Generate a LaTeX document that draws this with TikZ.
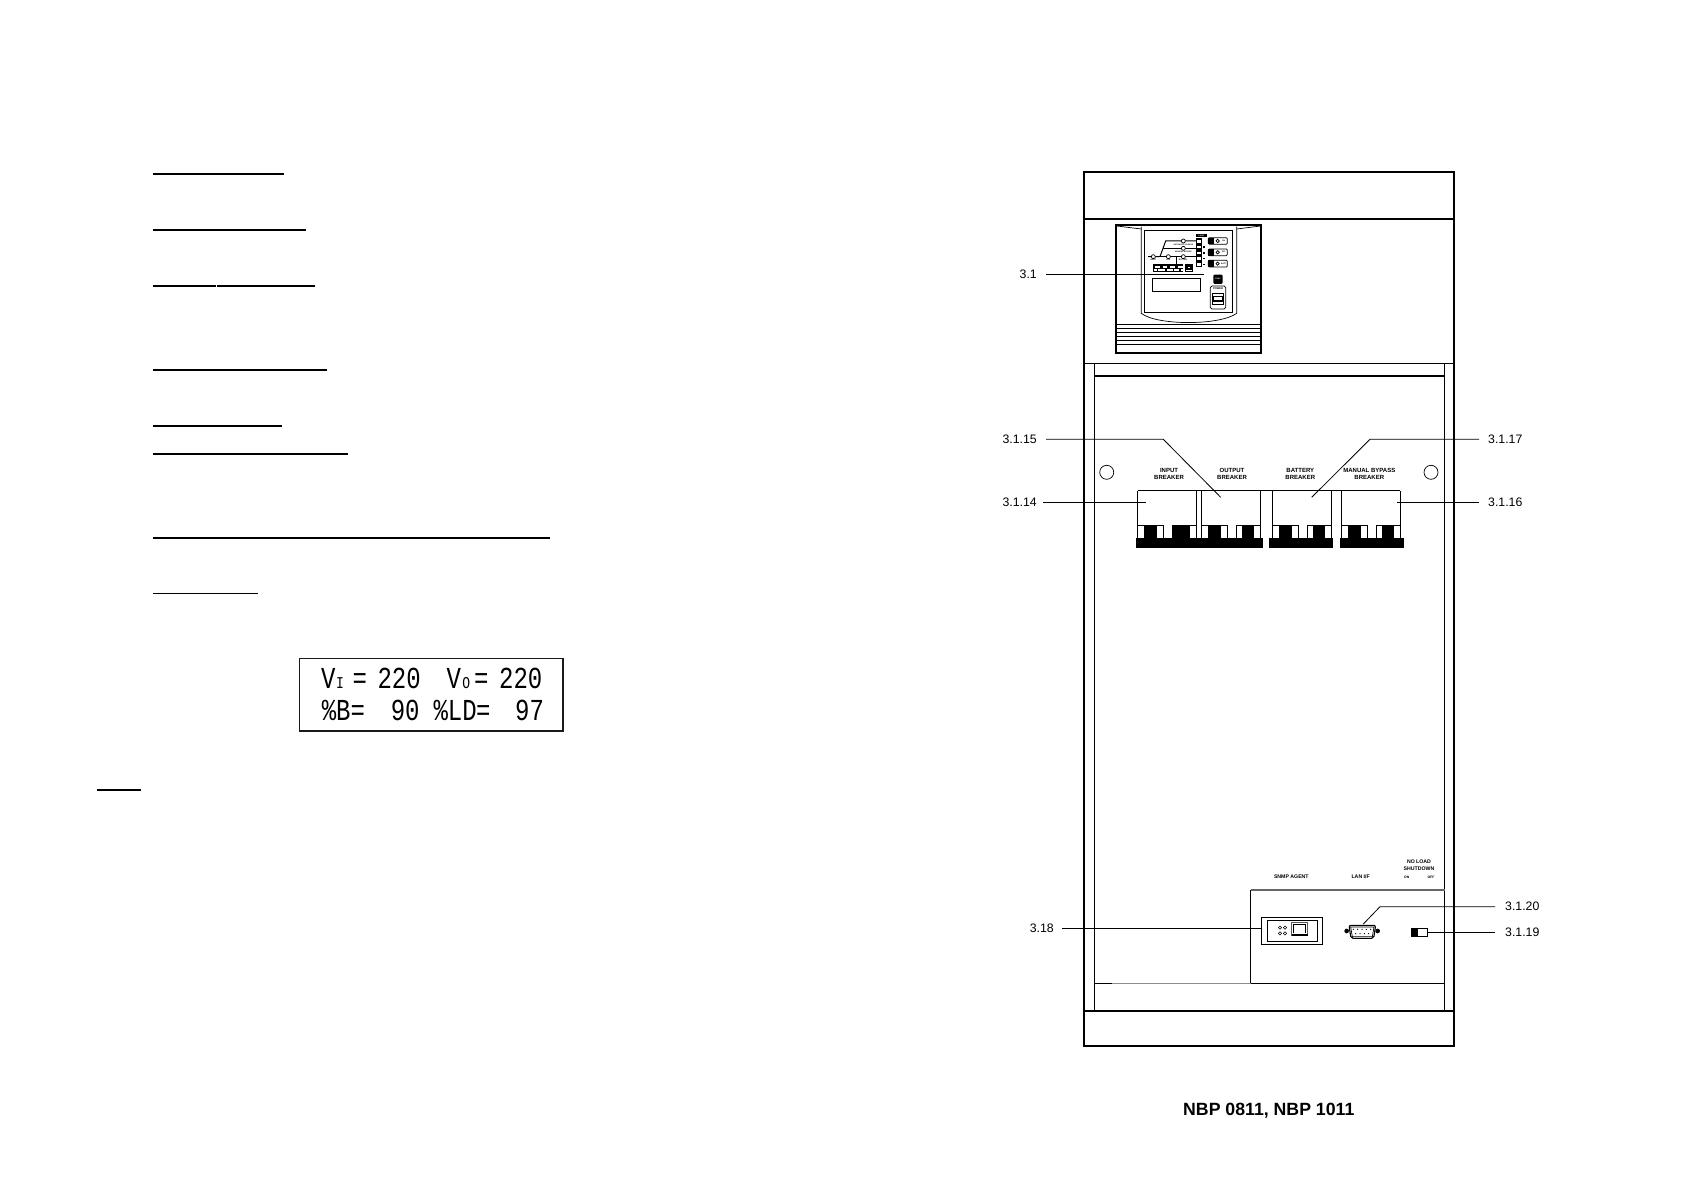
\documentclass[tikz,border=0pt]{standalone}
\usepackage{fontspec}
\usepackage{graphicx}
\setmainfont{Liberation Sans}
\newfontfamily\lcdfont{Liberation Mono}
\tikzset{
  heavy/.style={draw=black,line width=2.6pt},
  midline/.style={draw=black,line width=1.6pt},
  thinone/.style={draw=black,line width=1.1pt},
  hair/.style={draw=black,line width=0.7pt},
  leader/.style={draw=black,line width=0.8pt},
  pagerule/.style={draw=black,line width=1.2pt},
  callout/.style={inner sep=0pt,font=\fontsize{12.3}{13}\selectfont},
  captxt/.style={inner sep=0pt,align=center,font=\fontsize{6}{7}\selectfont\bfseries},
  smallcap/.style={inner sep=0pt,align=center,font=\fontsize{5.2}{6.3}\selectfont\bfseries},
  micro/.style={inner sep=0pt,font=\fontsize{3.4}{4}\selectfont\bfseries},
  nano/.style={inner sep=0pt,font=\fontsize{1.9}{2}\selectfont\bfseries},
  lcd/.style={inner sep=0pt,anchor=base west,font=\lcdfont\fontsize{24}{25}\selectfont},
  lcdsub/.style={inner sep=0pt,anchor=base west,font=\lcdfont\fontsize{13}{14}\selectfont},
  ink/.style={fill=black,draw=none},
}
\newcommand{\tall}[1]{\scalebox{1}[1.27]{#1}}
\begin{document}
\begin{tikzpicture}[x=1pt,y=-1pt]
\useasboundingbox (0,0) rectangle (1684,1190);
\fill[white] (0,0) rectangle (1684,1190);

%% left page rules
\begin{scope}[shift={(90,150)},x=0.3333pt,y=-0.3333pt]
\draw[pagerule] (190,72) -- (582,72);
\draw[pagerule] (190,240) -- (648,240);
\draw[pagerule] (190,408) -- (378,408);
\draw[pagerule] (381,408) -- (675,408);
\draw[pagerule] (190,660) -- (711,660);
\end{scope}
\begin{scope}[shift={(90,410)},x=0.3333pt,y=-0.3333pt]
\draw[pagerule] (190,48) -- (576,48);
\draw[pagerule] (190,132) -- (774,132);
\draw[pagerule] (190,384) -- (1380,384);
\draw[pagerule] (190,551) -- (504,551);
\draw[pagerule] (22,1140) -- (153,1140);
%% LCD
\draw[draw=black!90,line width=1.6pt] (628,746) rectangle (1420,963);
\node[lcd] (lcdVa) at (693,835) {\tall{V}};
\node[lcdsub] (lcdI) at (738,835) {\tall{I}};
\node[lcd] (lcdEq) at (787,835) {\tall{=}};
\node[lcd] (lcdA) at (862,835) {\tall{220}};
\node[lcd] (lcdVb) at (1069,835) {\tall{V}};
\node[lcdsub] (lcdO) at (1117,835) {\tall{O}};
\node[lcd] (lcdEqb) at (1152,835) {\tall{=}};
\node[lcd] (lcdB) at (1227,835) {\tall{220}};
\node[lcd] (lcdC) at (695,932) {\tall{\%B=}};
\node[lcd] (lcdD) at (902,932) {\tall{90}};
\node[lcd] (lcdE) at (1030,932) {\tall{\%LD}};
\node[lcd] (lcdEqc) at (1158,932) {\tall{=}};
\node[lcd] (lcdF) at (1275,932) {\tall{97}};
\end{scope}

%% cabinet
\draw[heavy] (1084,172) rectangle (1454,1046);
\draw[line width=2.2pt] (1084,219) -- (1454,219);
\draw[line width=2.2pt] (1084,1011) -- (1454,1011);
\draw[thinone] (1084,363.3) -- (1454,363.3);
\draw[midline] (1094.3,375.7) -- (1444.7,375.7);
\draw[thinone] (1094.3,363.3) -- (1094.3,1011);
\draw[thinone] (1444.7,363.3) -- (1444.7,1011);

%% control panel
\begin{scope}[shift={(1080,160)},x=0.3333pt,y=-0.3333pt]
\draw[heavy,line width=2.2pt] (107,194) rectangle (544,580);
\draw[thinone] (193,211) rectangle (458,458);
\draw[hair] (184,200) -- (184,460) .. controls (230,497) and (420,497) .. (470,460) -- (470,200);
\draw[hair] (110,198) -- (184,207);
\draw[hair] (470,207) -- (542,198);
\foreach \yy in {493,505,517,530,542,553} \draw[thinone] (109,\yy) -- (542,\yy);
%% display
\draw[thinone] (217,355) rectangle (362,395);
%% mimic
\draw[line width=1pt] (205,290) -- (240,290) -- (257,243) -- (348,243);
\draw[line width=1pt] (248,265) -- (348,265);
\draw[line width=1pt] (205,290) -- (350,290);
\draw[line width=1pt] (290,290) -- (290,314);
\foreach \cx/\cy in {220/290,265/290,310/290,310/243,310/265}
  \draw[hair,fill=white] (\cx,\cy) circle[radius=6];
\node[nano] (mA) at (310,255) {AUTOMATIC BYPASS};
\node[nano] (mB) at (310,277) {MANUAL BYPASS};
\node[nano] (mC) at (220,300) {INPUT};
\node[nano] (mD) at (265,300) {UPS};
\node[nano] (mE) at (310,300) {BATTERY};
%% load column
\fill[ink] (349,222) rectangle (380,232);
\node[nano,text=white] (mLoad) at (364,227) {LOAD};
\fill[ink] (349,234) rectangle (365,322);
\foreach \yy in {244,261,279,296,313}
  \fill[white] (352,\yy-4) rectangle (362,\yy+4);
\foreach \yy in {261,279,296,314} \fill[ink] (369,\yy-3) rectangle (375,\yy+2);
%% bar under mimic
\fill[ink] (220,313) rectangle (310,335);
\foreach \xx in {226,248,271,295}
  \fill[white] (\xx,317) rectangle (\xx+13,323);
\fill[white] (222,327) rectangle (308,333);
\foreach \xx in {230,256,278,298} \fill[ink] (\xx,326) rectangle (\xx+4,333);
\draw[hair] (315,313) rectangle (337,335);
\fill[ink] (317,315) rectangle (335,329);
\fill[white] (323,321) rectangle (330,324);
%% three indicators
\foreach \yy/\txt in {243/ON,277/OFF,311/BATT}{
  \draw[hair,rounded corners=1pt] (385,\yy-10) rectangle (442,\yy+10);
  \fill[ink] (385,\yy-10) rectangle (403,\yy+10);
  \draw[hair] (413,\yy) circle[radius=5];
  \node[nano] (ind\txt) at (431,\yy) {\txt};
}
%% func button
\fill[ink,rounded corners=1.2pt] (400,344) rectangle (428,372);
\node[nano,text=white] (mFunc) at (414,358) {FUNC};
%% power switch
\draw[hair,rounded corners=1.5pt] (391,378) rectangle (437,447);
\node[nano,font=\fontsize{2.6}{3}\selectfont\bfseries] (mPower) at (414,387) {POWER};
\draw[hair] (397,400) rectangle (430,433);
\draw[thinone] (400,409) rectangle (428,423);
\end{scope}

%% circles
\draw[hair] (1106.7,472.3) circle[radius=7];
\draw[hair] (1431,472.3) circle[radius=7];

%% breakers
\node[captxt] (capInput) at (1169,473.5) {INPUT\\BREAKER};
\node[captxt] (capOutput) at (1232,473.5) {OUTPUT\\BREAKER};
\node[captxt] (capBatt) at (1300.3,473.5) {BATTERY\\BREAKER};
\node[captxt] (capManual) at (1369.3,473.5) {MANUAL BYPASS\\BREAKER};
\foreach \bx in {1137.7,1201.7,1272.7,1341.7}{
  \draw[hair] (\bx,538) -- (\bx,490.7);
  \draw[hair] (\bx+58.7,538) -- (\bx+58.7,490.7);
  \draw[hair] (\bx,525) -- (\bx+25.7,525);
  \draw[hair] (\bx+35,525) -- (\bx+58.7,525);
  \fill[ink] (\bx+6.7,525) rectangle (\bx+19,538);
  \draw[hair] (\bx+25.7,525) -- (\bx+25.7,538);
  \draw[hair] (\bx+35,525) -- (\bx+35,538);
  \fill[ink] (\bx+40,525) rectangle (\bx+52.3,538);
}
\fill[ink] (1173,525) rectangle (1190,538);
\draw[thinone] (1137.7,490.7) -- (1400.4,490.7);
\fill[ink] (1136,538) rectangle (1262.7,548);
\fill[ink] (1269,538) rectangle (1332.7,548);
\fill[ink] (1340,538) rectangle (1404,548);

%% rear panel outline
\draw[draw=black!45,line width=1.1pt] (1112,983.3) -- (1250.7,983.3);
\draw[thinone] (1094.3,983.3) -- (1112,983.3);
\draw[thinone] (1250.7,983.3) -- (1444.7,983.3);
\draw[thinone] (1250.7,983.3) -- (1250.7,890);
\draw[draw=black!60,line width=1.1pt] (1250.7,890) -- (1444.7,890);

%% rear panel parts
\begin{scope}[shift={(1230,850)},x=0.3333pt,y=-0.3333pt]
\node[smallcap] (capSnmp) at (184,80) {SNMP AGENT};
\node[smallcap] (capLan) at (392,80) {LAN I/F};
\node[smallcap] (capNoLoad) at (567,46) {NO LOAD\\SHUTDOWN};
\node[micro] (capOn) at (530,82) {ON};
\node[micro] (capOff) at (603,82) {OFF};
%% SNMP box
\draw[thinone] (94,202) rectangle (278,284);
\draw[thinone] (112,211) rectangle (263,274);
\foreach \cx in {150,165}{
  \foreach \yy in {233,250}
    \draw[hair,line width=0.5pt] (\cx-5,\yy) -- (\cx,\yy-5) -- (\cx+5,\yy) -- (\cx,\yy+5) -- cycle;
}
\draw[draw=black!65,line width=1.2pt] (185,217) rectangle (233,257);
\draw[hair] (191,250) -- (191,224) -- (227,224) -- (227,250);
\fill[ink] (185,251) rectangle (233,257);
\fill[white] (194,247) rectangle (204,252);
\fill[white] (214,247) rectangle (224,252);
%% DB9
\fill[ink] (350,243) circle[radius=7];
\fill[ink] (443,243) circle[radius=7];
\draw[thinone,fill=white,rounded corners=2pt] (357,226) -- (437,226) -- (431,265) -- (363,265) -- cycle;
\draw[hair] (362,231) -- (432,231) -- (427,260) -- (367,260) -- cycle;
\foreach \xx in {370,383,396,409,422} \fill[ink] (\xx,238) circle[radius=2];
\foreach \xx in {377,390,403,416} \fill[ink] (\xx,251) circle[radius=2];
%% switch
\draw[thinone] (545,235) rectangle (593,260);
\fill[ink] (545,235) rectangle (565,260);
\end{scope}

%% callouts
\node[callout,anchor=east] (n31) at (1037,274) {3.1};
\node[callout,anchor=east] (n315) at (1037,439.3) {3.1.15};
\node[callout,anchor=east] (n314) at (1037,502.3) {3.1.14};
\node[callout,anchor=west] (n317) at (1488,439.3) {3.1.17};
\node[callout,anchor=west] (n316) at (1488,502.3) {3.1.16};
\node[callout,anchor=east] (n318) at (1054,928.3) {3.18};
\node[callout,anchor=west] (n320) at (1505,906.7) {3.1.20};
\node[callout,anchor=west] (n319) at (1505,932.3) {3.1.19};

\coordinate (t31) at (1204,274);
\coordinate (k315) at (1163.3,439.3);
\coordinate (t315) at (1220.7,497.3);
\coordinate (t314) at (1146,502.3);
\coordinate (k317) at (1370,439.3);
\coordinate (t317) at (1311.7,497.3);
\coordinate (t316) at (1396.7,502.3);
\coordinate (t318) at (1261.3,928.3);
\coordinate (k320) at (1380,906.7);
\coordinate (t320) at (1363.3,924);
\coordinate (t319) at (1427.7,932.3);

\draw[leader] ([xshift=9pt]n31.east) -- (t31);
\draw[leader] ([xshift=9pt]n315.east) -- (k315) -- (t315);
\draw[leader,line width=1pt] ([xshift=6.3pt]n314.east) -- (t314);
\draw[leader] ([xshift=-9pt]n317.west) -- (k317) -- (t317);
\draw[leader,line width=1pt] ([xshift=-9pt]n316.west) -- (t316);
\draw[leader] ([xshift=8pt]n318.east) -- (t318);
\draw[leader] ([xshift=-10pt]n320.west) -- (k320) -- (t320);
\draw[leader,line width=1pt] ([xshift=-10pt]n319.west) -- (t319);

%% caption
\node[inner sep=0pt,font=\fontsize{17.7}{20}\selectfont\bfseries] (title) at (1268.8,1110.7) {NBP 0811, NBP 1011};
\end{tikzpicture}
\end{document}
